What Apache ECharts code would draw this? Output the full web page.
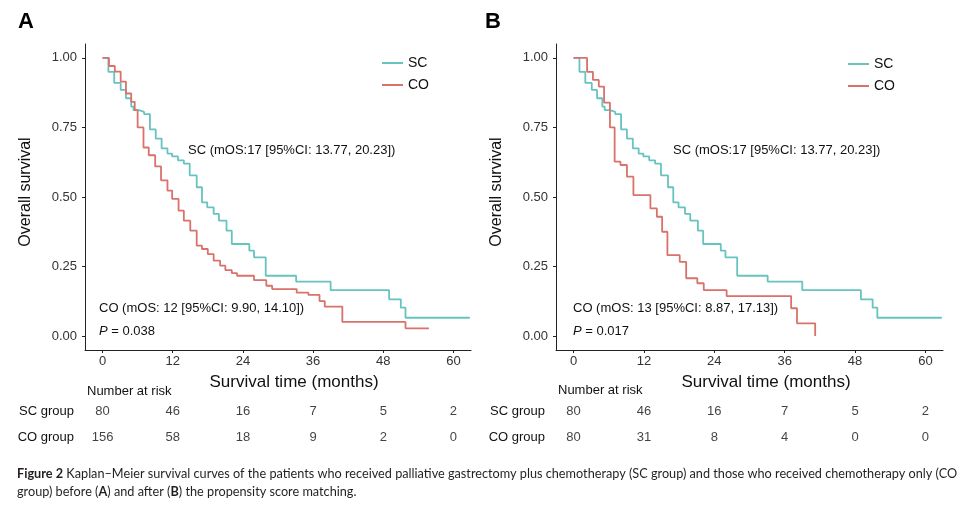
<!DOCTYPE html>
<html>
<head>
<meta charset="utf-8">
<script src="https://cdn.jsdelivr.net/npm/echarts@6/dist/echarts.min.js"></script>
<style>
html,body{margin:0;padding:0;background:#fff;}
#c{width:971px;height:509px;}
</style>
</head>
<body>
<div id="c"></div>
<script>
// ---------- data ----------
const monthTicks = [0, 12, 24, 36, 48, 60];
const survTicks = [0, 0.25, 0.5, 0.75, 1];
const groups = ['SC group', 'CO group'];

// SC group (same 80 patients in both panels)
const scTimes = [0, 1.0, 2.0, 3.1, 4.0, 4.9, 5.3, 6.2, 7.1, 8.1, 9.1, 10.1, 11.1, 11.9, 12.9, 13.9, 14.9, 16.1, 17.0, 17.9, 19.0, 19.9, 21.2, 22.1, 25.1, 25.9, 27.9, 33.1, 39.0, 49.0, 51.0, 51.8, 62.8];
const scSurv  = [1.0, 0.95, 0.91, 0.885, 0.855, 0.825, 0.812, 0.806, 0.798, 0.743, 0.71, 0.675, 0.656, 0.646, 0.632, 0.62, 0.578, 0.535, 0.481, 0.463, 0.439, 0.415, 0.379, 0.331, 0.307, 0.283, 0.217, 0.196, 0.165, 0.132, 0.102, 0.066, 0.066];

// CO group, panel A (before matching)
const coATimes = [0, 1.1, 2.1, 3.1, 4.0, 4.9, 5.5, 6.0, 7.0, 7.9, 9.0, 10.0, 11.1, 11.9, 13.0, 13.9, 15.0, 16.1, 17.0, 18.0, 19.0, 20.1, 21.0, 22.1, 23.0, 25.9, 28.0, 29.0, 33.2, 35.2, 37.1, 38.0, 41.0, 51.8, 55.8];
const coASurv  = [1.0, 0.971, 0.951, 0.915, 0.872, 0.842, 0.812, 0.75, 0.678, 0.65, 0.61, 0.56, 0.523, 0.493, 0.451, 0.415, 0.379, 0.325, 0.313, 0.295, 0.271, 0.253, 0.237, 0.226, 0.217, 0.201, 0.181, 0.169, 0.156, 0.148, 0.126, 0.106, 0.051, 0.028, 0.028];

// CO group, panel B (after matching)
const coBTimes = [0, 2.3, 3.3, 4.3, 5.2, 6.2, 7.0, 8.0, 9.1, 10.2, 13.1, 14.2, 15.1, 16.0, 18.1, 19.2, 21.1, 22.2, 26.1, 37.1, 38.1, 41.2];
const coBSurv  = [1.0, 0.95, 0.921, 0.897, 0.839, 0.75, 0.627, 0.615, 0.573, 0.507, 0.459, 0.429, 0.375, 0.291, 0.267, 0.208, 0.19, 0.165, 0.144, 0.1, 0.046, 0.0];

// numbers at risk
const riskSC_A = [80, 46, 16, 7, 5, 2];
const riskCO_A = [156, 58, 18, 9, 2, 0];
const riskSC_B = [80, 46, 16, 7, 5, 2];
const riskCO_B = [80, 31, 8, 4, 0, 0];

// ---------- styles ----------
const FONT = 'Arial, "Liberation Sans", sans-serif';
const TEAL = '#67c3c0';
const RED = '#d8726b';
const AXIS = '#222';

const pair = (ts, vs) => ts.map((t, i) => [t, vs[i]]);
const riskData = (sc, co) => monthTicks.map((m, i) => [m, groups[0], sc[i]])
  .concat(monthTicks.map((m, i) => [m, groups[1], co[i]]));

const grids = [
  {left: 85, top: 44, width: 386, height: 306},
  {left: 556, top: 44, width: 387, height: 306},
  {left: 85, top: 398, width: 386, height: 52},
  {left: 556, top: 398, width: 387, height: 52}
];

function mainX(gi) {
  return {
    type: 'value', gridIndex: gi, min: -3, max: 63,
    axisLine: {show: true, onZero: false, lineStyle: {color: AXIS, width: 1}},
    axisTick: {show: true, length: 3, customValues: monthTicks, lineStyle: {color: AXIS}},
    axisLabel: {customValues: monthTicks, color: '#333', fontSize: 13, fontFamily: FONT, margin: 5},
    splitLine: {show: false}
  };
}
function mainY(gi) {
  return {
    type: 'value', gridIndex: gi, min: -0.05, max: 1.05,
    axisLine: {show: true, onZero: false, lineStyle: {color: AXIS, width: 1}},
    axisTick: {show: true, length: 3, customValues: survTicks, lineStyle: {color: AXIS}},
    axisLabel: {customValues: survTicks, color: '#333', fontSize: 13, fontFamily: FONT, margin: 8,
      formatter: v => Number(v).toFixed(2)},
    splitLine: {show: false}
  };
}
function riskX(gi) {
  return {type: 'value', gridIndex: gi, min: -3, max: 63, show: false, splitLine: {show: false}};
}
function riskY(gi) {
  return {
    type: 'category', gridIndex: gi, data: groups, inverse: true,
    axisLine: {show: false}, axisTick: {show: false},
    axisLabel: {color: '#111', fontSize: 13, fontFamily: FONT, margin: 11},
    splitLine: {show: false}
  };
}

function kmLine(name, data, axisIdx, color) {
  return {
    name: name, type: 'line', step: 'end', xAxisIndex: axisIdx, yAxisIndex: axisIdx,
    data: data, symbol: 'none', lineStyle: {color: color, width: 1.8}, itemStyle: {color: color},
    animation: false
  };
}
function riskSeries(data, axisIdx) {
  return {
    type: 'scatter', xAxisIndex: axisIdx, yAxisIndex: axisIdx, data: data,
    symbolSize: 1, itemStyle: {color: 'rgba(0,0,0,0)'}, silent: true, animation: false,
    label: {show: true, position: 'inside', color: '#111', fontSize: 13, fontFamily: FONT,
      formatter: p => String(p.value[2])}
  };
}

function txt(x, y, text, opts) {
  return Object.assign({
    type: 'text', x: x, y: y, silent: true,
    style: Object.assign({text: text, fill: '#111', font: '13px ' + FONT,
      textAlign: 'left', textVerticalAlign: 'middle'}, (opts && opts.style) || {})
  }, opts && opts.rotation !== undefined ? {rotation: opts.rotation} : {});
}

const richP = {
  i: {fontStyle: 'italic', fontSize: 13, fontFamily: FONT, fill: '#111'},
  n: {fontSize: 13, fontFamily: FONT, fill: '#111'}
};
const CAP = 12.7;
const richCap = {
  b: {fontWeight: 'bold', fontSize: CAP, fontFamily: 'Lato', fill: '#231f20'},
  n: {fontSize: CAP, fontFamily: 'Lato', fill: '#231f20'}
};

const option = {
  backgroundColor: '#fff',
  animation: false,
  grid: grids,
  xAxis: [mainX(0), mainX(1), riskX(2), riskX(3)],
  yAxis: [mainY(0), mainY(1), riskY(2), riskY(3)],
  legend: [
    {left: 377, top: 51, orient: 'vertical', itemWidth: 21, itemHeight: 2, itemGap: 8, icon: 'rect',
      data: [{name: 'SC', itemStyle: {color: TEAL}}, {name: 'CO', itemStyle: {color: RED}}],
      textStyle: {fontSize: 14, fontFamily: FONT, color: '#111'}, selectedMode: false},
    {left: 843, top: 52, orient: 'vertical', itemWidth: 21, itemHeight: 2, itemGap: 8, icon: 'rect',
      data: [{name: 'SC', itemStyle: {color: TEAL}}, {name: 'CO', itemStyle: {color: RED}}],
      textStyle: {fontSize: 14, fontFamily: FONT, color: '#111'}, selectedMode: false}
  ],
  series: [
    kmLine('SC', pair(scTimes, scSurv), 0, TEAL),
    kmLine('CO', pair(coATimes, coASurv), 0, RED),
    kmLine('SC', pair(scTimes, scSurv), 1, TEAL),
    kmLine('CO', pair(coBTimes, coBSurv), 1, RED),
    riskSeries(riskData(riskSC_A, riskCO_A), 2),
    riskSeries(riskData(riskSC_B, riskCO_B), 3)
  ],
  graphic: [
    txt(18, 22, 'A', {style: {font: 'bold 22px ' + FONT, fill: '#000'}}),
    txt(485, 22, 'B', {style: {font: 'bold 22px ' + FONT, fill: '#000'}}),
    txt(26, 192, 'Overall survival', {rotation: Math.PI / 2, style: {font: '16px ' + FONT, textAlign: 'center'}}),
    txt(497, 192, 'Overall survival', {rotation: Math.PI / 2, style: {font: '16px ' + FONT, textAlign: 'center'}}),
    txt(294, 382, 'Survival time (months)', {style: {font: '17px ' + FONT, textAlign: 'center'}}),
    txt(766, 382, 'Survival time (months)', {style: {font: '17px ' + FONT, textAlign: 'center'}}),
    txt(87, 391, 'Number at risk', {style: {font: '13px ' + FONT}}),
    txt(558, 390, 'Number at risk', {style: {font: '13px ' + FONT}}),
    txt(188, 150, 'SC (mOS:17 [95%CI: 13.77, 20.23])'),
    txt(673, 150, 'SC (mOS:17 [95%CI: 13.77, 20.23])'),
    txt(99, 308, 'CO (mOS: 12 [95%CI: 9.90, 14.10])'),
    txt(573, 308, 'CO (mOS: 13 [95%CI: 8.87, 17.13])'),
    {type: 'text', x: 99, y: 331, silent: true,
      style: {text: '{i|P}{n| = 0.038}', rich: richP, textVerticalAlign: 'middle'}},
    {type: 'text', x: 573, y: 331, silent: true,
      style: {text: '{i|P}{n| = 0.017}', rich: richP, textVerticalAlign: 'middle'}},
    {type: 'text', x: 17, y: 474, silent: true,
      style: {
        text: '{b|Figure 2} {n|Kaplan–Meier survival curves of the patients who received palliative gastrectomy plus chemotherapy (SC group) and those who received chemotherapy only (CO}',
        rich: richCap, textVerticalAlign: 'middle'}},
    {type: 'text', x: 17, y: 492, silent: true,
      style: {
        text: '{n|group) before (}{b|A}{n|) and after (}{b|B}{n|) the propensity score matching.}',
        rich: richCap, textVerticalAlign: 'middle'}}
  ]
};

const chart = echarts.init(document.getElementById('c'), null, {renderer: 'canvas'});
chart.setOption(option);
</script>
</body>
</html>
